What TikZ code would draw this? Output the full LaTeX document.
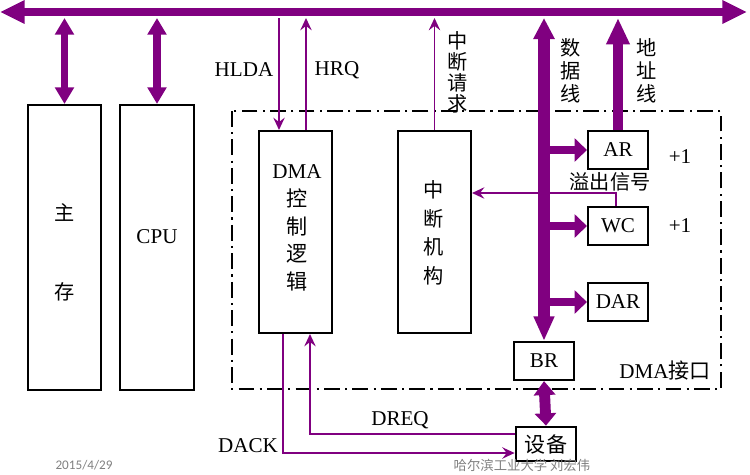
\documentclass[tikz,border=0pt]{standalone}
\usepackage{fontspec}
\setmainfont{Liberation Serif}
\newfontfamily\cjk{Noto Sans CJK SC}
\newfontfamily\carl{Carlito}
\usetikzlibrary{arrows.meta}
\definecolor{buspurple}{RGB}{128,0,128}
\definecolor{footgray}{RGB}{128,128,128}
\newcommand{\zh}[1]{{\cjk #1}}

\begin{document}
\begin{tikzpicture}[x=0.02cm, y=-0.02cm,
	font=\fontsize{12}{14}\selectfont,
	box/.style={draw, line width=1.2pt, inner sep=0pt},
	sig/.style={buspurple, line width=1pt, -{Stealth[length=7pt,width=6.5pt,inset=2.5pt]}},
	bus/.style={buspurple, line width=4.8pt, {Triangle[length=14pt,width=12.5pt]}-{Triangle[length=14pt,width=12.5pt]}},
	sidebus/.style={buspurple, line width=4pt, {Triangle[length=9.5pt,width=10.5pt]}-{Triangle[length=9.5pt,width=10.5pt]}},
	databus/.style={buspurple, line width=6.6pt, {Triangle[length=12pt,width=11.5pt]}-{Triangle[length=14pt,width=11pt]}},
	addrbus/.style={buspurple, line width=5.6pt, -{Triangle[length=15pt,width=12.5pt]}},
	branch/.style={buspurple, line width=5pt, -{Triangle[length=7pt,width=13pt]}},
	devbus/.style={buspurple, line width=6.2pt, {Triangle[length=8pt,width=12pt]}-{Triangle[length=7pt,width=12pt]}},
	vtext/.style={align=center, inner sep=0pt, font=\cjk\fontsize{11.5}{12}\selectfont},
	dashdot/.style={line width=1.5pt, dash pattern=on 9pt off 3pt on 1.2pt off 3pt}]

	\useasboundingbox (0,0) rectangle (750,474);

	% system bus
	\coordinate (busL) at (0,12);
	\coordinate (busR) at (747,12);
	\coordinate (busB) at (375,18);
	\draw [bus] (busL) -- (busR);

	% memory and cpu
	\node [box, minimum width=1.46cm, minimum height=5.7cm] (mem) at (64.5,247.5) {};
	\node [box, minimum width=1.48cm, minimum height=5.7cm] (cpu) at (157,247.5) {};
	\node [font=\cjk\fontsize{11.5}{14}\selectfont] (memtop) at (65,213) {主};
	\node [font=\cjk\fontsize{11.5}{14}\selectfont] (membot) at (65,292) {存};
	\node (cputxt) at (157,237) {CPU};
	\draw [sidebus] (mem.north |- busB) -- (mem.north);
	\draw [sidebus] (cpu.north |- busB) -- (cpu.north);

	% dma interface
	\draw [dashdot] (232,111) rectangle (721,389);
	\node [align=right] (ifname) at (665,371) {DMA\zh{接口}};

	\node [box, minimum width=1.46cm, minimum height=4.04cm] (dmactl) at (295.5,232) {};
	\node [align=center, inner sep=0pt, font=\fontsize{12}{15.8}\selectfont] (dmatxt) at (297,228)%
	{DMA\\ \zh{控}\\ \zh{制}\\ \zh{逻}\\ \zh{辑}};

	\node [box, minimum width=1.46cm, minimum height=4.04cm] (intr) at (434.5,232) {};
	\node [vtext, font=\cjk\fontsize{11.5}{16.3}\selectfont] (intrtxt) at (434,233)%
	{中\\ 断\\ 机\\ 构};

	\node [box, minimum width=1.2cm, minimum height=0.76cm] (ar) at (618,150) {AR};
	\node [box, minimum width=1.2cm, minimum height=0.76cm] (wc) at (618,226) {WC};
	\node [box, minimum width=1.2cm, minimum height=0.76cm] (dar) at (618,302) {DAR};
	\node [box, minimum width=1.2cm, minimum height=0.76cm] (br) at (544,361) {BR};
	\node [box, line width=1.6pt, minimum width=1.2cm, minimum height=0.68cm] (dev) at (546,444)%
	{\zh{设备}};

	\node (arinc) at (680,157) {+1};
	\node (wcinc) at (680,226) {+1};

	% hold request / acknowledge
	\draw [sig] ([xshift=-0.33cm]dmactl.north |- busB) -- ([xshift=-0.33cm]dmactl.north);
	\draw [sig] ([xshift=0.21cm]dmactl.north) -- ([xshift=0.21cm]dmactl.north |- busB);
	\node (hlda) at (244,70) {HLDA};
	\node (hrq) at (337,70) {HRQ};

	% interrupt request
	\draw [sig] (intr.north) -- (intr.north |- busB);
	\node [vtext] (intreq) at (458,72) {中\\ 断\\ 请\\ 求};

	% data and address lines
	\draw [databus] (br.north |- busB) -- (br.north);
	\draw [branch] (br.north |- ar) -- (ar.west);
	\draw [branch] (br.north |- wc) -- (wc.west);
	\draw [branch] (br.north |- dar) -- (dar.west);
	\draw [addrbus] (ar.north) -- (ar.north |- busB);
	\node [vtext, font=\cjk\fontsize{11.5}{13}\selectfont] (datatxt) at (571,71) {数\\ 据\\ 线};
	\node [vtext, font=\cjk\fontsize{11.5}{13}\selectfont] (addrtxt) at (647,71) {地\\ 址\\ 线};

	% overflow signal
	\coordinate (ovf) at (616,193);
	\draw [sig] (ovf |- wc.north) -- (ovf) -- (ovf -| intr.east);
	\node [font=\cjk\fontsize{11.5}{14}\selectfont] (ovftxt) at (610,182) {溢出信号};

	% device side
	\draw [devbus] (br.south) -- (dev.north);
	\coordinate (dreq) at (310,434);
	\coordinate (dack) at (283,453);
	\draw [sig] (dev.west |- dreq) -| (dmactl.south -| dreq);
	\draw [sig] (dmactl.south -| dack) |- (dev.west |- dack);
	\node (dreqtxt) at (400,420) {DREQ};
	\node (dacktxt) at (248,446) {DACK};

	% footer
	\node [footgray, font=\carl\fontsize{7.5}{9}\selectfont] (date) at (84,465) {2015/4/29};
	\node [footgray, font=\cjk\fontsize{7.6}{9}\selectfont] (school) at (522,465) {哈尔滨工业大学 刘宏伟};
\end{tikzpicture}
\end{document}
